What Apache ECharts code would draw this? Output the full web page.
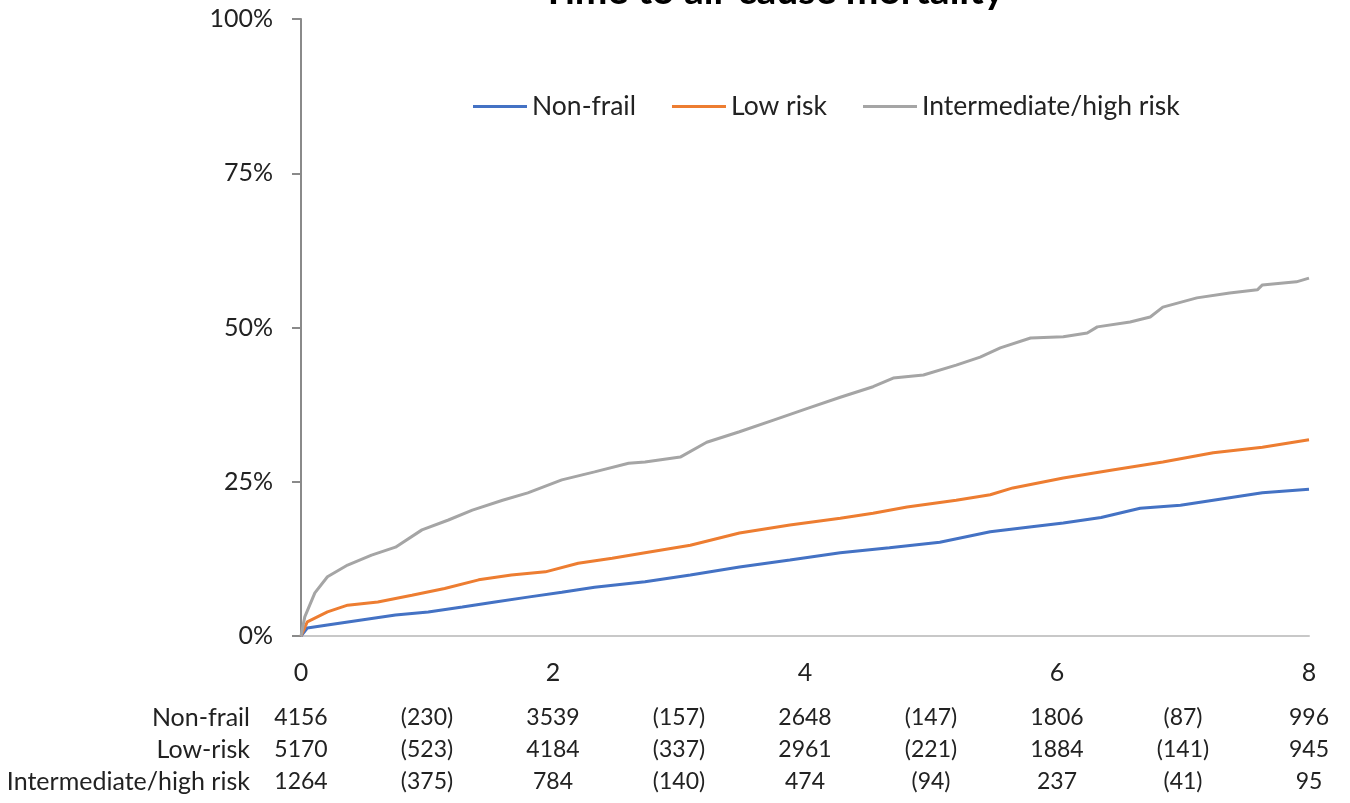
<!DOCTYPE html>
<html>
<head>
<meta charset="utf-8">
<script src="https://cdn.jsdelivr.net/npm/echarts@6/dist/echarts.min.js"></script>
<style>html,body{margin:0;padding:0;background:#fff}#c{width:1350px;height:803px}</style>
</head>
<body>
<div id="c"></div>
<script>
const seriesNames = ['Non-frail', 'Low risk', 'Intermediate/high risk'];
const tableRowLabels = ['Non-frail', 'Low-risk', 'Intermediate/high risk'];
const xTicks = [0, 2, 4, 6, 8];

const nonFrailX = [0, 0.05, 0.21, 0.48, 0.75, 1.01, 1.28, 1.54, 1.8, 2.07, 2.33, 2.73, 3.09, 3.48, 3.88, 4.28, 4.67, 5.07, 5.47, 5.8, 6.05, 6.35, 6.66, 6.98, 7.37, 7.63, 8.0];
const nonFrailY = [0, 1.3, 1.8, 2.6, 3.4, 3.9, 4.7, 5.5, 6.3, 7.1, 7.9, 8.8, 9.9, 11.2, 12.3, 13.5, 14.3, 15.2, 16.9, 17.7, 18.3, 19.2, 20.7, 21.2, 22.4, 23.2, 23.8];

const lowRiskX = [0, 0.05, 0.21, 0.37, 0.61, 0.88, 1.14, 1.41, 1.67, 1.94, 2.2, 2.47, 2.73, 3.09, 3.48, 3.88, 4.28, 4.54, 4.81, 5.2, 5.47, 5.65, 6.05, 6.44, 6.84, 7.24, 7.63, 8.0];
const lowRiskY = [0, 2.3, 3.9, 5, 5.5, 6.6, 7.7, 9.1, 9.9, 10.4, 11.8, 12.6, 13.5, 14.7, 16.7, 18, 19.1, 19.9, 20.9, 22, 22.9, 24, 25.6, 26.9, 28.2, 29.7, 30.6, 31.8];

const highRiskX = [0, 0.03, 0.11, 0.21, 0.37, 0.56, 0.75, 0.96, 1.17, 1.36, 1.6, 1.8, 2.07, 2.33, 2.6, 2.73, 3.01, 3.22, 3.48, 3.75, 4.02, 4.28, 4.54, 4.7, 4.94, 5.2, 5.39, 5.55, 5.79, 6.05, 6.24, 6.32, 6.58, 6.74, 6.84, 7.11, 7.37, 7.59, 7.63, 7.9, 8.0];
const highRiskY = [0, 3.1, 7, 9.6, 11.5, 13.1, 14.4, 17.2, 18.8, 20.4, 22, 23.2, 25.3, 26.6, 28, 28.2, 29, 31.4, 33.1, 35, 36.9, 38.7, 40.4, 41.8, 42.3, 43.9, 45.2, 46.7, 48.3, 48.5, 49.1, 50.1, 50.9, 51.7, 53.3, 54.8, 55.6, 56.1, 56.9, 57.4, 58];

// Numbers at risk (at years 0,2,4,6,8) and censored in between (in parentheses)
const atRiskNonFrail = [4156, 3539, 2648, 1806, 996];
const censNonFrail = [230, 157, 147, 87];
const atRiskLow = [5170, 4184, 2961, 1884, 945];
const censLow = [523, 337, 221, 141];
const atRiskHigh = [1264, 784, 474, 237, 95];
const censHigh = [375, 140, 94, 41];

const colors = ['#4472C4', '#ED7D31', '#A5A5A5'];
const FONT = 'Lato, "Liberation Sans", sans-serif';

function zip(xs, ys) { return xs.map((x, i) => [x, ys[i]]); }
function cell(atRisk, cens, v) {
  const i = Math.round(v);
  if (i % 2 === 0) return String(atRisk[i / 2]);
  return '(' + cens[(i - 1) / 2] + ')';
}

const chart = echarts.init(document.getElementById('c'));
chart.setOption({
  animation: false,
  backgroundColor: '#fff',
  title: {
    text: 'Time to all-cause mortality',
    left: 768, textAlign: 'center', top: -33,
    textStyle: { fontFamily: FONT, fontSize: 39, fontWeight: 'bold', color: '#000' }
  },
  legend: {
    left: 468, top: 88,
    itemWidth: 54, itemHeight: 3, itemGap: 36,
    icon: 'rect',
    textStyle: { fontFamily: FONT, fontSize: 26.5, color: '#222' },
    data: seriesNames
  },
  grid: { left: 301, right: 41, top: 19, bottom: 167, containLabel: false },
  xAxis: [
    {
      type: 'value', min: 0, max: 8, interval: 2,
      axisLine: { show: true, lineStyle: { color: '#c8c8c8', width: 2 } },
      axisTick: { show: false },
      splitLine: { show: false },
      axisLabel: { fontFamily: FONT, fontSize: 25, color: '#222', margin: 24,
        formatter: v => xTicks.indexOf(v) >= 0 ? String(v) : '' }
    },
    {
      type: 'value', min: 0, max: 8, interval: 1, position: 'bottom',
      axisLine: { show: false }, axisTick: { show: false }, splitLine: { show: false },
      axisLabel: {
        fontFamily: FONT, fontSize: 23, color: '#222', margin: 66, lineHeight: 32,
        formatter: v => cell(atRiskNonFrail, censNonFrail, v) + '\n' +
                        cell(atRiskLow, censLow, v) + '\n' +
                        cell(atRiskHigh, censHigh, v)
      }
    }
  ],
  yAxis: {
    type: 'value', min: 0, max: 100, interval: 25,
    axisLine: { show: true, lineStyle: { color: '#8a8a8a', width: 2 } },
    axisTick: { show: true, length: 9, lineStyle: { color: '#8a8a8a', width: 2 } },
    splitLine: { show: false },
    axisLabel: { fontFamily: FONT, fontSize: 25, color: '#222', margin: 28, formatter: '{value}%' }
  },
  graphic: tableRowLabels.map((t, i) => ({
    type: 'text', right: 1350 - 250, top: 702 + i * 32,
    style: { text: t, fontFamily: FONT, fontSize: 25, fill: '#222', textAlign: 'right', lineHeight: 32 }
  })),
  series: [
    { name: seriesNames[0], type: 'line', data: zip(nonFrailX, nonFrailY), showSymbol: false, lineStyle: { width: 3, color: colors[0] }, itemStyle: { color: colors[0] } },
    { name: seriesNames[1], type: 'line', data: zip(lowRiskX, lowRiskY), showSymbol: false, lineStyle: { width: 3, color: colors[1] }, itemStyle: { color: colors[1] } },
    { name: seriesNames[2], type: 'line', data: zip(highRiskX, highRiskY), showSymbol: false, lineStyle: { width: 3, color: colors[2] }, itemStyle: { color: colors[2] } }
  ]
});
</script>
</body>
</html>
